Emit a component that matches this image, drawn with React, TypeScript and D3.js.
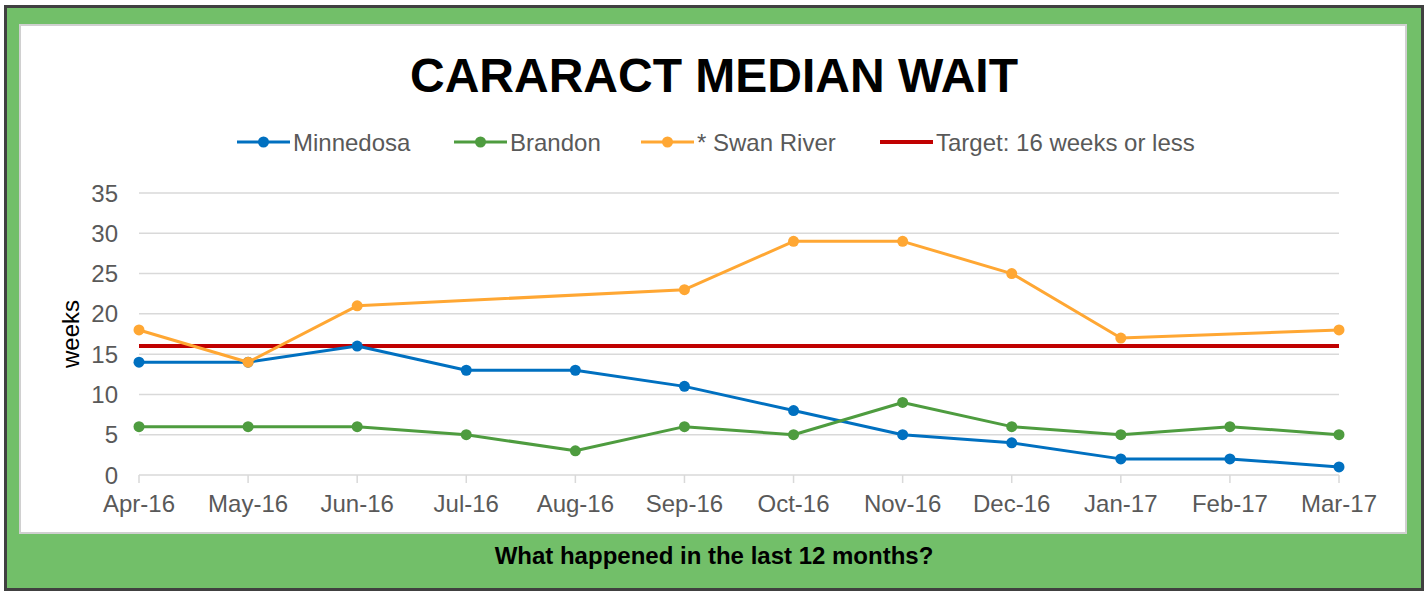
import React, { useEffect, useRef } from 'react';
import * as d3 from 'd3';

const months = ['Apr-16', 'May-16', 'Jun-16', 'Jul-16', 'Aug-16', 'Sep-16', 'Oct-16', 'Nov-16', 'Dec-16', 'Jan-17', 'Feb-17', 'Mar-17'];
const minnedosa = [14, 14, 16, 13, 13, 11, 8, 5, 4, 2, 2, 1];
const brandon = [6, 6, 6, 5, 3, 6, 5, 9, 6, 5, 6, 5];
const swanRiver = [18, 14, 21, null, null, 23, 29, 29, 25, 17, null, 18];
const target = 16;
const yTicks = [0, 5, 10, 15, 20, 25, 30, 35];

const W = 1426;
const H = 591;

export default function App() {
  const svgRef = useRef<SVGSVGElement>(null);

  useEffect(() => {
    const svg = d3.select(svgRef.current);
    svg.selectAll('*').remove();

    // frame
    svg.append('rect').attr('x', 5.5).attr('y', 6.5).attr('width', 1417).attr('height', 583)
      .attr('fill', '#72bf69').attr('stroke', '#404040').attr('stroke-width', 3);
    svg.append('rect').attr('x', 20).attr('y', 25).attr('width', 1386).attr('height', 508)
      .attr('fill', '#fff').attr('stroke', '#d0d0d0').attr('stroke-width', 2);

    const x = d3.scalePoint<string>().domain(months).range([139, 1339]);
    const y = d3.scaleLinear().domain([0, 35]).range([475, 193]);
    const font = 'Liberation Sans, Arial, sans-serif';

    svg.append('text').attr('x', 714).attr('y', 92).attr('text-anchor', 'middle')
      .attr('font-family', font).attr('font-weight', 'bold').attr('font-size', 48)
      .text('CARARACT MEDIAN WAIT');

    // grid
    svg.append('g').selectAll('line').data(yTicks.filter(d => d > 0)).join('line')
      .attr('x1', 139).attr('x2', 1339).attr('y1', d => y(d)).attr('y2', d => y(d))
      .attr('stroke', '#d9d9d9').attr('stroke-width', 1.5);
    svg.append('line').attr('x1', 139).attr('x2', 1339).attr('y1', y(0)).attr('y2', y(0))
      .attr('stroke', '#d9d9d9').attr('stroke-width', 1.5);
    svg.append('g').selectAll('line').data(months).join('line')
      .attr('x1', d => x(d)!).attr('x2', d => x(d)!).attr('y1', y(0)).attr('y2', y(0) + 8)
      .attr('stroke', '#d9d9d9').attr('stroke-width', 1.5);

    svg.append('g').selectAll('text').data(yTicks).join('text')
      .attr('x', 118).attr('y', d => y(d) + 8.5).attr('text-anchor', 'end')
      .attr('font-family', font).attr('font-size', 24).attr('fill', '#595959')
      .text(d => d);
    svg.append('g').selectAll('text').data(months).join('text')
      .attr('x', d => x(d)!).attr('y', 512).attr('text-anchor', 'middle')
      .attr('font-family', font).attr('font-size', 24).attr('fill', '#595959')
      .text(d => d);

    svg.append('text').attr('transform', `translate(79,334) rotate(-90)`).attr('text-anchor', 'middle')
      .attr('font-family', font).attr('font-size', 24).attr('fill', '#000').text('weeks');

    // target
    svg.append('line').attr('x1', 139).attr('x2', 1339).attr('y1', y(target)).attr('y2', y(target))
      .attr('stroke', '#c00000').attr('stroke-width', 4);

    const series = [
      { name: 'Minnedosa', values: minnedosa, color: '#0070c0' },
      { name: 'Brandon', values: brandon, color: '#4e9c3f' },
      { name: '* Swan River', values: swanRiver, color: '#ffa733' },
    ];

    series.forEach(s => {
      const pts = s.values.map((v, i) => ({ m: months[i], v })).filter(p => p.v !== null) as { m: string; v: number }[];
      const line = d3.line<{ m: string; v: number }>().x(p => x(p.m)!).y(p => y(p.v));
      svg.append('path').attr('d', line(pts)).attr('fill', 'none').attr('stroke', s.color)
        .attr('stroke-width', 3).attr('stroke-linejoin', 'round');
      svg.append('g').selectAll('circle').data(pts).join('circle')
        .attr('cx', p => x(p.m)!).attr('cy', p => y(p.v)).attr('r', 5.5).attr('fill', s.color);
    });

    // legend
    const legend = [
      { name: 'Minnedosa', color: '#0070c0', marker: true, x0: 237 },
      { name: 'Brandon', color: '#4e9c3f', marker: true, x0: 454 },
      { name: '* Swan River', color: '#ffa733', marker: true, x0: 641 },
      { name: 'Target: 16 weeks or less', color: '#c00000', marker: false, x0: 880 },
    ];
    const lg = svg.append('g');
    legend.forEach(l => {
      lg.append('line').attr('x1', l.x0).attr('x2', l.x0 + 53).attr('y1', 142).attr('y2', 142)
        .attr('stroke', l.color).attr('stroke-width', l.marker ? 3 : 4);
      if (l.marker) lg.append('circle').attr('cx', l.x0 + 26.5).attr('cy', 142).attr('r', 5.5).attr('fill', l.color);
      lg.append('text').attr('x', l.x0 + 56).attr('y', 150.5).attr('font-family', font).attr('font-size', 24)
        .attr('fill', '#595959').text(l.name);
    });

    svg.append('text').attr('x', 714).attr('y', 564).attr('text-anchor', 'middle')
      .attr('font-family', font).attr('font-weight', 'bold').attr('font-size', 24)
      .text('What happened in the last 12 months?');
  }, []);

  return (
    <svg ref={svgRef} width={W} height={H} style={{ position: 'absolute', left: 0, top: 0 }} />
  );
}
